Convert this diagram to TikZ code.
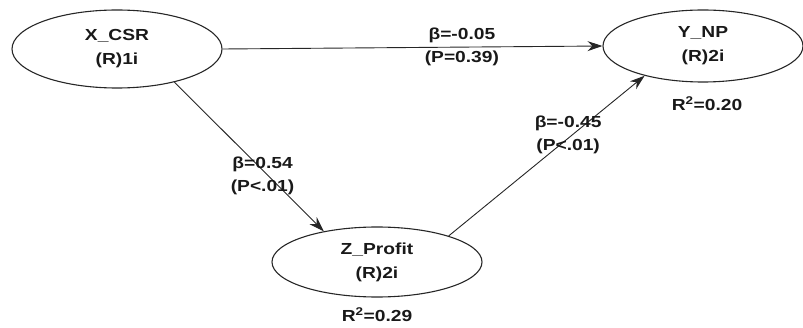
\documentclass[tikz,border=0pt]{standalone}
\usepackage{fontspec}
\setmainfont{Liberation Sans}[FakeStretch=1.2]
\usepackage{tikz}
\usetikzlibrary{arrows.meta, shapes.geometric, positioning}

\begin{document}
\begin{tikzpicture}[
            x=1pt, y=1pt,
            >={Stealth[length=15pt, width=10pt]},
            latent/.style={ellipse, draw=black!85, line width=1.1pt, inner sep=0pt, align=center, text=black!90, font=\fontsize{16}{24}\selectfont\bfseries},
            effect/.style={->, line width=0.9pt, black!85},
            coef/.style={pos=0.63, inner sep=0pt, align=center, text=black!90, font=\fontsize{16}{23}\selectfont\bfseries},
            rsq/.style={inner sep=0pt, text=black!90, font=\fontsize{16}{19}\selectfont\bfseries}
        ]

        % 1. Frame of the picture
        \useasboundingbox (0,0) rectangle (803,327);

        % 2. Centres of the three constructs
        \def\Xx{117} \def\Xy{278}
        \def\Yx{703} \def\Yy{281}
        \def\Zx{377} \def\Zy{65}

        % 3. Constructs
        \node[latent, minimum width=210pt, minimum height=78pt] (xcsr) at (\Xx, \Xy) {X\_CSR\\(R)1i};
        \node[latent, minimum width=200pt, minimum height=72pt] (ynp) at (\Yx, \Yy) {Y\_NP\\(R)2i};
        \node[latent, minimum width=210pt, minimum height=70pt] (zprofit) at (\Zx, \Zy) {Z\_Profit\\(R)2i};

        % R-squared below the endogenous constructs
        \node[rsq, below=14pt of ynp, xshift=4pt] (rsqy) {R\textsuperscript{2}=0.20};
        \node[rsq, below=10pt of zprofit] (rsqz) {R\textsuperscript{2}=0.29};

        % 4. Paths with coefficients
        \draw[effect] (xcsr.east) -- (ynp.west)
            node[coef] (cxy) {β=-0.05\\(P=0.39)};
        \draw[effect] (xcsr.-30) -- (zprofit.150)
            node[coef, xshift=-6pt] (cxz) {β=0.54\\(P<.01)};
        \draw[effect] (zprofit.20) -- (ynp.207)
            node[coef, xshift=-4pt] (czy) {β=-0.45\\(P<.01)};

        \end{tikzpicture}
\end{document}
